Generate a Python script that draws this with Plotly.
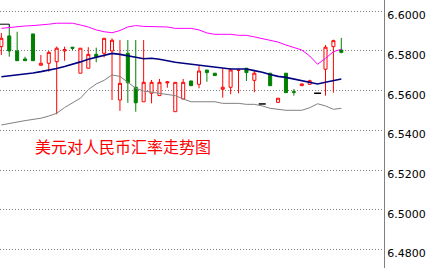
import plotly.graph_objects as go

# ---- data ----
idx = list(range(44))
open_ = [6.5822, 6.5876, 6.5800, 6.5760, 6.5886, 6.5728, 6.5738, 6.5746, 6.5800, 6.5819,
         6.5688, 6.5713, 6.5783, 6.5788, 6.5800, 6.5553, 6.5788, 6.5617, 6.5544, 6.5587,
         6.5575, 6.5639, 6.5494, 6.5558, 6.5649, 6.5632, 6.5704, 6.5688, 6.5607, 6.5617,
         6.5703, 6.5713, 6.5652, 6.5533, 6.5688, 6.5541, 6.5688, 6.5595, 6.5625, 6.5632,
         6.5587, 6.5708, 6.5822, 6.5805]
high = [6.5891, 6.5917, 6.5897, 6.5771, 6.5886, 6.5780, 6.5800, 6.5822, 6.5822, 6.5819,
        6.5814, 6.5819, 6.5817, 6.5864, 6.5864, 6.5855, 6.5855, 6.5855, 6.5855, 6.5654,
        6.5659, 6.5649, 6.5642, 6.5659, 6.5649, 6.5724, 6.5704, 6.5688, 6.5713, 6.5713,
        6.5704, 6.5713, 6.5699, 6.5533, 6.5688, 6.5562, 6.5688, 6.5608, 6.5634, 6.5655,
        6.5587, 6.5830, 6.5857, 6.5866]
low = [6.5780, 6.5771, 6.5751, 6.5751, 6.5751, 6.5728, 6.5696, 6.5481, 6.5751, 6.5805,
       6.5688, 6.5713, 6.5743, 6.5768, 6.5553, 6.5498, 6.5539, 6.5494, 6.5544, 6.5536,
       6.5575, 6.5615, 6.5494, 6.5558, 6.5625, 6.5612, 6.5645, 6.5676, 6.5565, 6.5582,
       6.5587, 6.5649, 6.5592, 6.5533, 6.5625, 6.5541, 6.5590, 6.5575, 6.5625, 6.5632,
       6.5587, 6.5575, 6.5590, 6.5788]
close = [6.5864, 6.5800, 6.5751, 6.5751, 6.5751, 6.5738, 6.5793, 6.5814, 6.5807, 6.5814,
         6.5814, 6.5783, 6.5771, 6.5864, 6.5854, 6.5637, 6.5640, 6.5539, 6.5642, 6.5642,
         6.5642, 6.5644, 6.5642, 6.5642, 6.5625, 6.5699, 6.5691, 6.5676, 6.5617, 6.5704,
         6.5704, 6.5691, 6.5688, 6.5533, 6.5625, 6.5562, 6.5590, 6.5592, 6.5634, 6.5650,
         6.5587, 6.5819, 6.5852, 6.5793]

upper = [6.5914, 6.5918, 6.5924, 6.5926, 6.5928, 6.5930, 6.5935, 6.5940, 6.5940, 6.5940,
         6.5931, 6.5921, 6.5906, 6.5897, 6.5892, 6.5903, 6.5921, 6.5928, 6.5924, 6.5924,
         6.5924, 6.5921, 6.5914, 6.5914, 6.5914, 6.5906, 6.5891, 6.5884, 6.5884, 6.5884,
         6.5879, 6.5879, 6.5871, 6.5863, 6.5854, 6.5845, 6.5830, 6.5817, 6.5805, 6.5775,
         6.5733, 6.5763, 6.5796, 6.5809]
middle = [6.5670, 6.5674, 6.5679, 6.5684, 6.5689, 6.5696, 6.5703, 6.5712, 6.5722, 6.5732,
          6.5745, 6.5758, 6.5768, 6.5777, 6.5788, 6.5783, 6.5777, 6.5768, 6.5761, 6.5763,
          6.5758, 6.5750, 6.5743, 6.5738, 6.5733, 6.5729, 6.5723, 6.5718, 6.5713, 6.5709,
          6.5709, 6.5709, 6.5701, 6.5693, 6.5681, 6.5672, 6.5667, 6.5659, 6.5650, 6.5642,
          6.5634, 6.5642, 6.5652, 6.5659]
lower = [6.5427, 6.5435, 6.5442, 6.5449, 6.5455, 6.5461, 6.5472, 6.5486, 6.5515, 6.5540,
         6.5562, 6.5605, 6.5634, 6.5652, 6.5679, 6.5672, 6.5644, 6.5612, 6.5598, 6.5592,
         6.5585, 6.5580, 6.5575, 6.5558, 6.5544, 6.5544, 6.5544, 6.5544, 6.5536, 6.5536,
         6.5536, 6.5531, 6.5531, 6.5523, 6.5511, 6.5506, 6.5501, 6.5501, 6.5501, 6.5514,
         6.5534, 6.5523, 6.5506, 6.5511]

edge_x = [-0.2, 1.0, 1.0]
edge_y = [6.5935, 6.5935, 6.5921]

tick_vals = [6.48, 6.50, 6.52, 6.54, 6.56, 6.58, 6.60]
tick_text = ["%.4f" % v for v in tick_vals]
title_text = "美元对人民币汇率走势图"

# ---- split dojis (all four equal) ----
is_doji = [o == h == l == c for o, h, l, c in zip(open_, high, low, close)]
cx = [i for i, d in zip(idx, is_doji) if not d]
co = [v for v, d in zip(open_, is_doji) if not d]
ch = [v for v, d in zip(high, is_doji) if not d]
cl = [v for v, d in zip(low, is_doji) if not d]
cc = [v for v, d in zip(close, is_doji) if not d]
dx = [i for i, d in zip(idx, is_doji) if d]
dy = [v for v, d in zip(close, is_doji) if d]

fig = go.Figure()
fig.add_trace(go.Scatter(x=idx, y=upper, mode="lines",
                         line=dict(color="#FF00FF", width=1), hoverinfo="skip"))
fig.add_trace(go.Scatter(x=idx, y=lower, mode="lines",
                         line=dict(color="#808080", width=1), hoverinfo="skip"))
fig.add_trace(go.Scatter(x=idx, y=middle, mode="lines",
                         line=dict(color="#000080", width=1.6), hoverinfo="skip"))
fig.add_trace(go.Candlestick(
    x=cx, open=co, high=ch, low=cl, close=cc,
    increasing=dict(line=dict(color="#FF0000", width=1), fillcolor="white"),
    decreasing=dict(line=dict(color="#008000", width=1), fillcolor="#008000"),
    whiskerwidth=0, hoverinfo="skip"))
fig.add_trace(go.Scatter(x=dx, y=dy, mode="markers",
                         marker=dict(symbol="line-ew", size=5,
                                     line=dict(color="black", width=1.5)),
                         hoverinfo="skip"))
fig.add_trace(go.Scatter(x=edge_x, y=edge_y, mode="lines",
                         line=dict(color="black", width=1), hoverinfo="skip"))

fig.add_annotation(text=title_text, xref="paper", yref="paper",
                   x=33 / 384, y=1 - 146 / 268, xanchor="left", yanchor="middle",
                   showarrow=False,
                   font=dict(family="Noto Sans CJK SC", size=16, color="#FF0000"))

fig.update_layout(
    width=429, height=268,
    margin=dict(l=0, r=45, t=0, b=0),
    paper_bgcolor="white", plot_bgcolor="white",
    showlegend=False,
    boxgap=0.45,
    xaxis=dict(range=[-0.17, 48.4], visible=False, rangeslider=dict(visible=False),
               fixedrange=True),
    yaxis=dict(range=[6.4706, 6.6057], side="right",
               tickvals=tick_vals, ticktext=tick_text,
               showgrid=True, gridcolor="#808080", griddash="1px,2px", gridwidth=1,
               showline=True, linecolor="#808080", linewidth=1,
               ticks="", zeroline=False, ticklabelshift=4,
               tickfont=dict(family="DejaVu Sans", size=11, color="#000000"),
               fixedrange=True),
)

fig.write_html("out.html", config={"displayModeBar": False})
